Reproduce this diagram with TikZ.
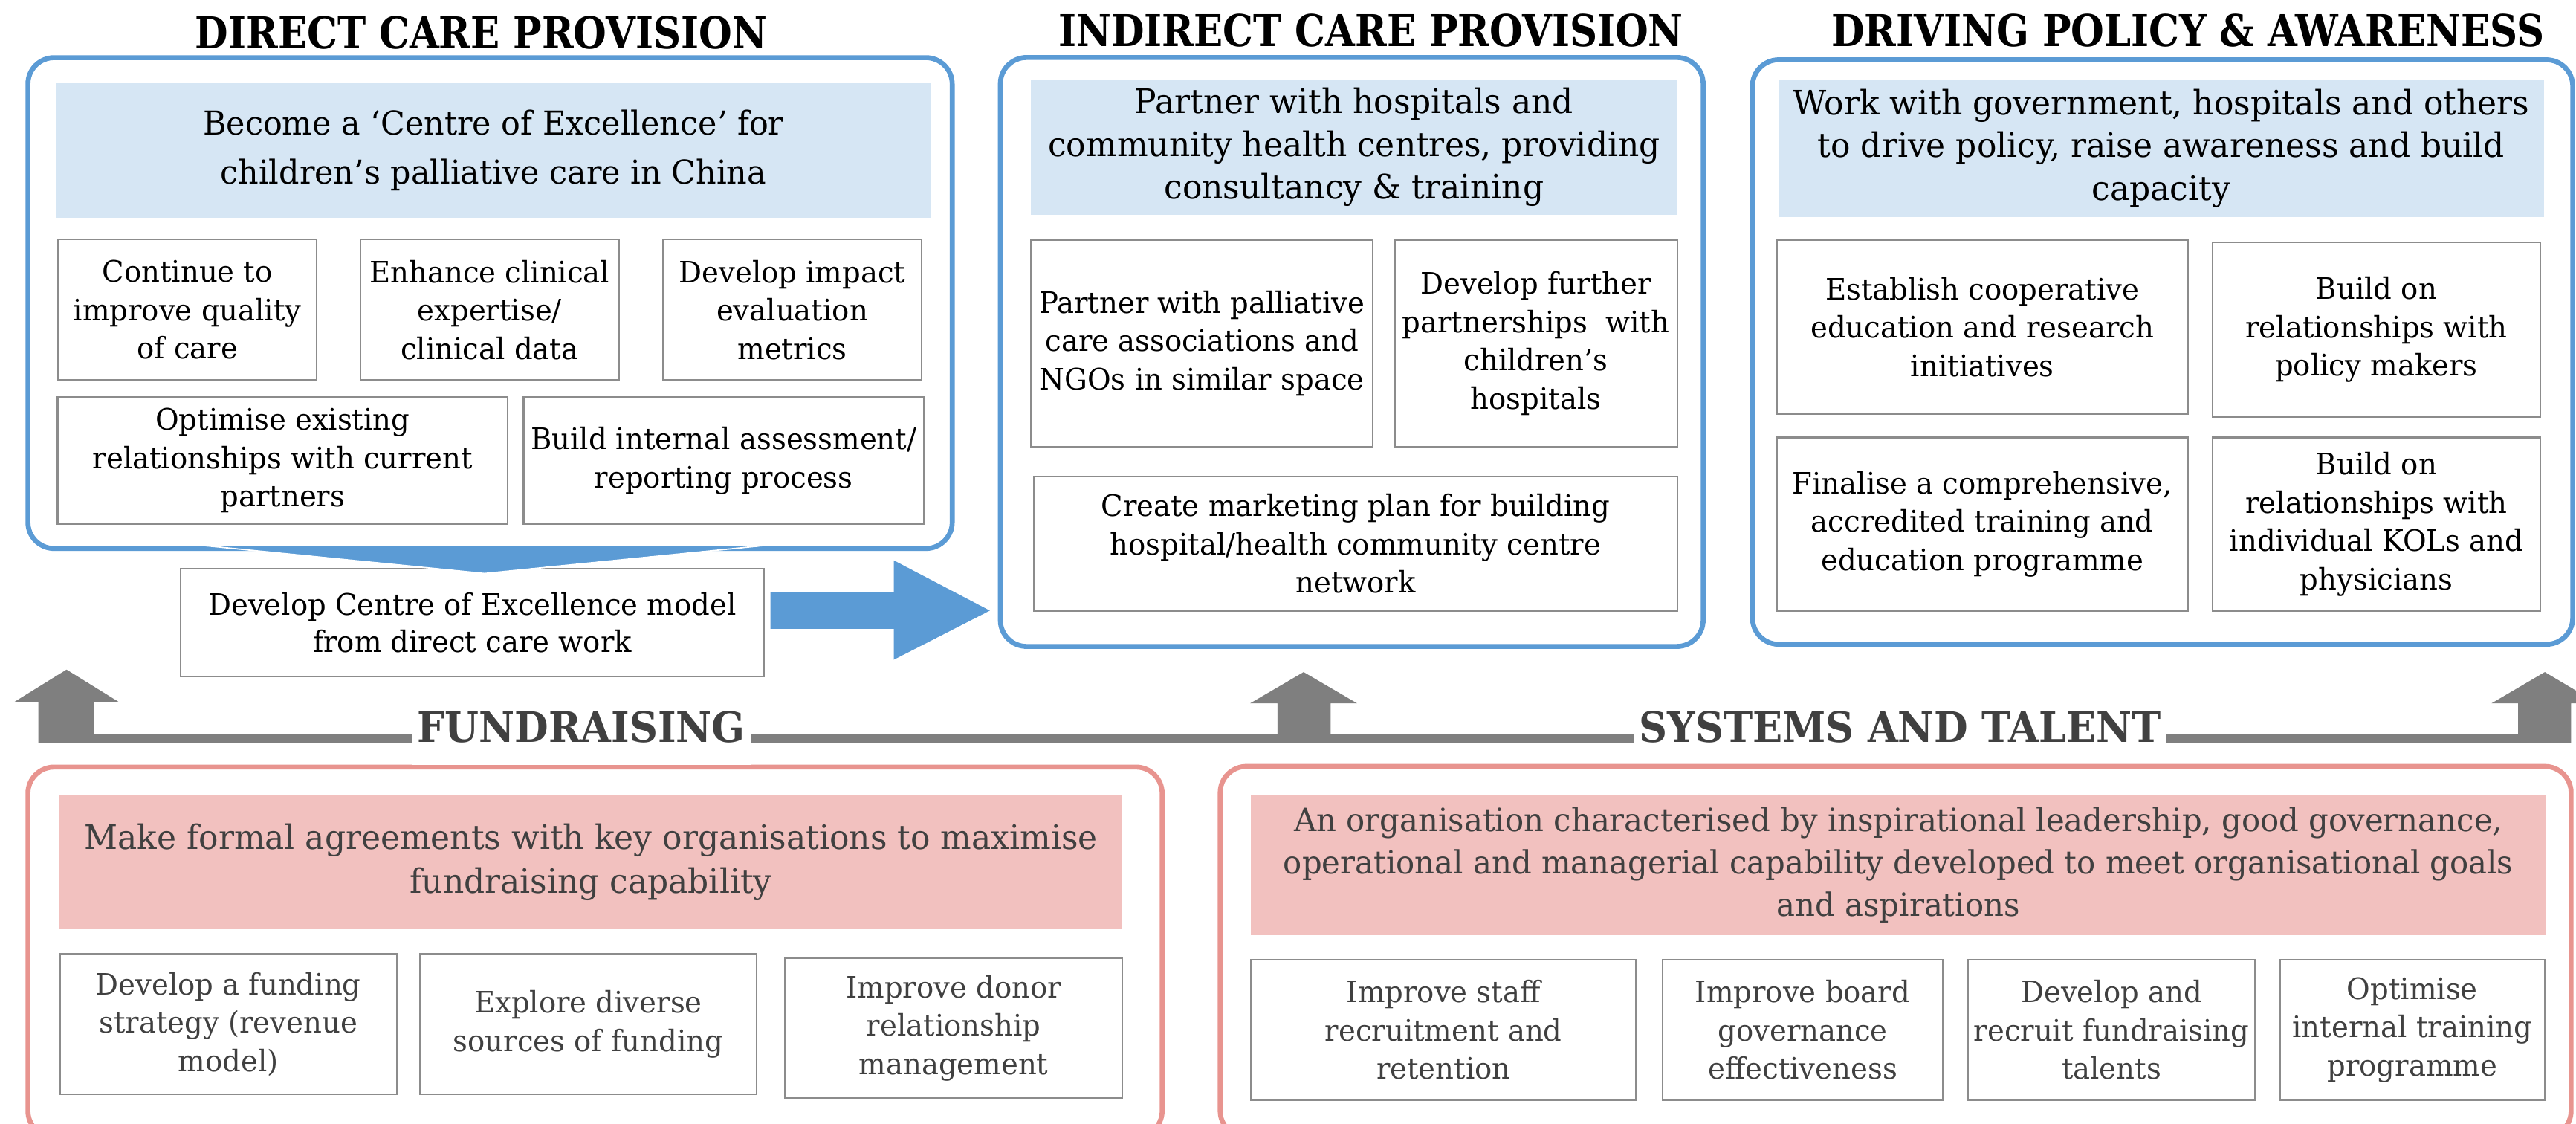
\documentclass[tikz,border=0pt]{standalone}
\usepackage{fontspec}
\setmainfont{DejaVu Serif}[FakeStretch=0.97]
\newfontfamily\ttlfont{DejaVu Serif}[FakeStretch=0.87]
\newfontfamily\labfont{DejaVu Serif}[FakeStretch=0.93]
\usetikzlibrary{calc}
\definecolor{bblue}{HTML}{5B9BD5}
\definecolor{hblue}{HTML}{D6E6F4}
\definecolor{pborder}{HTML}{E8948F}
\definecolor{pfill}{HTML}{F2C1BF}
\definecolor{sgray}{HTML}{8C8C8C}
\definecolor{agray}{HTML}{7F7F7F}
\definecolor{dtext}{HTML}{404040}
\newcommand\mkbox[7]{%
  \pgfmathsetmacro\bw{#5-#3}\pgfmathsetmacro\bh{#6-#4}%
  \pgfmathsetmacro\bcx{(#3+#5)/2}\pgfmathsetmacro\bcy{(#4+#6)/2}%
  \node[#2, minimum width=\bw pt, minimum height=\bh pt] (#1) at (\bcx,\bcy) {#7};}
\begin{document}
\begin{tikzpicture}[x=1pt,y=-1pt,
  outerB/.style={draw=bblue, line width=3pt, rounded corners=16pt, inner sep=0pt},
  outerP/.style={draw=pborder, line width=3pt, rounded corners=16pt, inner sep=0pt},
  hdrB/.style={fill=hblue, inner sep=0pt, align=center, text=black, font={\fontsize{20.5}{26}\selectfont}},
  hdrP/.style={fill=pfill, inner sep=0pt, align=center, text=dtext, font={\fontsize{20.5}{27}\selectfont}},
  subT/.style={draw=sgray, line width=1pt, fill=white, inner sep=0pt, align=center, text=black, font={\fontsize{18}{23.3}\selectfont}},
  subB/.style={subT, text=dtext},
  ttl/.style={anchor=base, inner sep=0pt, text=black, font={\ttlfont\bfseries\fontsize{26.7}{30}\selectfont}},
  lab/.style={anchor=base, fill=white, inner xsep=3pt, inner ysep=0pt, text=dtext, font={\labfont\bfseries\fontsize{25.6}{30}\selectfont}},
  blk/.style={fill=bblue},
  gar/.style={fill=agray}]
\clip (0,0) rectangle (1568,684);
\fill[white] (0,0) rectangle (1568,684);

% titles
\node[ttl] (t1) at (293,29.6) {DIRECT CARE PROVISION};
\node[ttl] (t2) at (834.5,28.5) {INDIRECT CARE PROVISION};
\node[ttl] (t3) at (1331.8,28.5) {DRIVING POLICY \& AWARENESS};

% outer blue boxes
\mkbox{o1}{outerB}{17}{35.1}{579.6}{333.8}{}
\mkbox{o2}{outerB}{608.9}{35}{1036.7}{393.4}{}
\mkbox{o3}{outerB}{1066.7}{36.4}{1566}{392.1}{}

% headers
\mkbox{h1}{hdrB, font={\fontsize{20}{29.5}\selectfont}}{34.3}{50.4}{566.3}{132.7}{Become a ‘Centre of Excellence’ for\\children’s palliative care in China}
\mkbox{h2}{hdrB}{627.6}{48.8}{1020.9}{130.6}{Partner with hospitals and\\community health centres, providing\\consultancy \& training}
\mkbox{h3}{hdrB}{1082.5}{48.8}{1548.5}{131.9}{Work with government, hospitals and others\\to drive policy, raise awareness and build\\capacity}

% direct care boxes
\mkbox{a1}{subT}{35.5}{145.8}{192.7}{231.3}{Continue to\\improve quality\\of care}
\mkbox{a2}{subT}{219.3}{145.8}{376.8}{231.3}{Enhance clinical\\expertise/\\clinical data}
\mkbox{a3}{subT}{403.5}{145.8}{561}{231.3}{Develop impact\\evaluation\\metrics}
\mkbox{a4}{subT}{35.1}{241.7}{309}{319}{Optimise existing\\relationships with current\\partners}
\mkbox{a5}{subT}{318.7}{241.7}{562.3}{319}{Build internal assessment/\\reporting process}
\mkbox{dev}{subT, font={\fontsize{18}{22.5}\selectfont}}{110}{346}{465}{411.7}{Develop Centre of Excellence model\\from direct care work}

% chevron from direct care box to model box
\filldraw[blk, draw=white, line width=0.8pt] (124,332) -- (465,332) -- (295,349) -- cycle;

% indirect care boxes
\mkbox{b1}{subT}{627.6}{146}{835.6}{271.9}{Partner with palliative\\care associations and\\NGOs in similar space}
\mkbox{b2}{subT}{848.9}{146}{1020.9}{271.9}{Develop further\\partnerships~ with\\children’s\\hospitals}
\mkbox{b3}{subT}{629.4}{290}{1020.9}{371.9}{Create marketing plan for building\\hospital/health community centre\\network}

% policy boxes
\mkbox{c1}{subT}{1081.5}{146}{1331.8}{251.9}{Establish cooperative\\education and research\\initiatives}
\mkbox{c2}{subT}{1346.9}{147.5}{1546.1}{253.7}{Build on\\relationships with\\policy makers}
\mkbox{c3}{subT}{1081.5}{266.2}{1331.8}{371.9}{Finalise a comprehensive,\\accredited training and\\education programme}
\mkbox{c4}{subT}{1346.9}{266.2}{1546.1}{371.9}{Build on\\relationships with\\individual KOLs and\\physicians}

% blue block arrow from model box to indirect care box
\coordinate (ba1) at (469,371.6);
\coordinate (ba2) at (602.5,371.6);
\fill[blk] ($(ba1)+(0,-11)$) -- ($(ba2)+(-58.5,-11)$) -- ($(ba2)+(-58.5,-30.6)$) -- (ba2)
  -- ($(ba2)+(-58.5,29.9)$) -- ($(ba2)+(-58.5,11.1)$) -- ($(ba1)+(0,11.1)$) -- cycle;

% gray bar and up arrows
\fill[gar] (23.4,446.6) rectangle (1565,452.2);
\fill[gar] (23.4,452.2) -- (23.4,427.5) -- (8.2,427.5) -- (40.5,407.5) -- (72.8,427.5) -- (57,427.5) -- (57,452.2) -- cycle;
\fill[gar] (777.6,452.2) -- (777.6,428) -- (761,428) -- (793.5,409) -- (826,428) -- (810,428) -- (810,452.2) -- cycle;
\fill[gar] (1532.7,452.2) -- (1532.7,428) -- (1516.6,428) -- (1549,409) -- (1581,428) -- (1565,428) -- (1565,452.2) -- cycle;

% bottom pink boxes
\mkbox{p1}{outerP}{17}{466.8}{707.4}{692}{}
\mkbox{p2}{outerP}{742.7}{466.4}{1565}{692}{}

% section labels over the bar
\node[lab, text depth=14.2pt] (lf) at (353.75,451.5) {FUNDRAISING};
\node[lab] (ls) at (1156.6,451.5) {\strut SYSTEMS AND TALENT};

\mkbox{ph1}{hdrP}{36.4}{483.7}{683}{565.7}{Make formal agreements with key organisations to maximise\\fundraising capability}
\mkbox{ph2}{hdrP, font={\fontsize{19.5}{25.8}\selectfont}}{761.5}{483.6}{1549.5}{569}{An organisation characterised by inspirational leadership, good governance,\\operational and managerial capability developed to meet organisational goals\\and aspirations}
\mkbox{d1}{subB}{36.4}{580.5}{241.5}{666}{Develop a funding\\strategy (revenue\\model)}
\mkbox{d2}{subB}{255.5}{580.5}{460.6}{666}{Explore diverse\\sources of funding}
\mkbox{d3}{subB}{477.9}{582.9}{683}{668.4}{Improve donor\\relationship\\management}
\mkbox{e1}{subB}{761.5}{583.9}{995.8}{669.5}{Improve staff\\recruitment and\\retention}
\mkbox{e2}{subB}{1012}{583.9}{1182.6}{669.5}{Improve board\\governance\\effectiveness}
\mkbox{e3}{subB}{1197.7}{583.9}{1372.8}{669.5}{Develop and\\recruit fundraising\\talents}
\mkbox{e4}{subB}{1387.9}{583.9}{1548.9}{669.5}{Optimise\\internal training\\programme}
\end{tikzpicture}
\end{document}
